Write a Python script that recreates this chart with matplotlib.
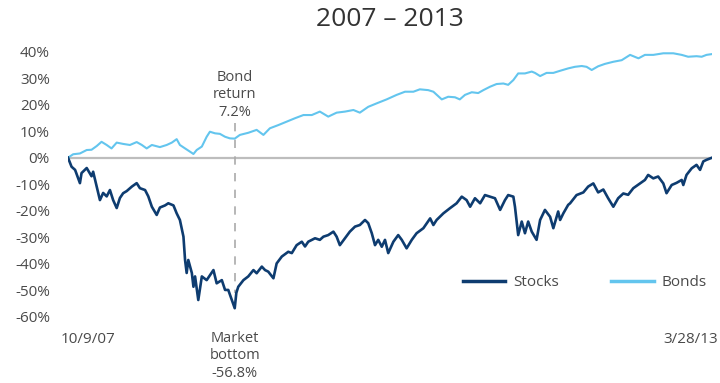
import matplotlib
matplotlib.use("Agg")
import matplotlib.pyplot as plt
import matplotlib.transforms as mtransforms
import pandas as pd

# ---------------- data ----------------
title = "2007 \u2013 2013"
series_names = ["Stocks", "Bonds"]

stock_dates = [
    "2007-10-09", "2007-10-20", "2007-10-31", "2007-11-15", "2007-11-20", "2007-12-06",
    "2007-12-21", "2007-12-26", "2008-01-06", "2008-01-16", "2008-01-26", "2008-02-06",
    "2008-02-16", "2008-02-26", "2008-03-08", "2008-03-18", "2008-03-28", "2008-04-08",
    "2008-04-24", "2008-05-09", "2008-05-19", "2008-06-04", "2008-06-14", "2008-06-25",
    "2008-07-10", "2008-07-20", "2008-08-05", "2008-08-15", "2008-08-31", "2008-09-10",
    "2008-09-20", "2008-10-01", "2008-10-06", "2008-10-11", "2008-10-16", "2008-10-27",
    "2008-11-01", "2008-11-06", "2008-11-16", "2008-11-27", "2008-12-12", "2009-01-02",
    "2009-01-12", "2009-01-28", "2009-02-07", "2009-02-17", "2009-03-09", "2009-03-14",
    "2009-03-20", "2009-04-05", "2009-04-20", "2009-05-06", "2009-05-16", "2009-06-01",
    "2009-06-11", "2009-06-21", "2009-07-07", "2009-07-17", "2009-08-02", "2009-08-22",
    "2009-09-02", "2009-09-17", "2009-10-03", "2009-10-13", "2009-10-23", "2009-11-13",
    "2009-11-28", "2009-12-09", "2009-12-24", "2010-01-09", "2010-01-19", "2010-01-29",
    "2010-02-14", "2010-03-01", "2010-03-17", "2010-04-01", "2010-04-17", "2010-04-27",
    "2010-05-08", "2010-05-18", "2010-05-28", "2010-06-08", "2010-06-18", "2010-06-28",
    "2010-07-14", "2010-07-29", "2010-08-09", "2010-08-24", "2010-09-09", "2010-09-24",
    "2010-10-15", "2010-11-05", "2010-11-15", "2010-11-25", "2010-12-16", "2011-01-05",
    "2011-01-26", "2011-02-11", "2011-02-26", "2011-03-09", "2011-03-24", "2011-04-09",
    "2011-04-24", "2011-05-10", "2011-05-25", "2011-06-10", "2011-06-25", "2011-07-05",
    "2011-07-21", "2011-07-26", "2011-08-05", "2011-08-16", "2011-08-26", "2011-09-05",
    "2011-09-16", "2011-10-01", "2011-10-12", "2011-10-27", "2011-11-12", "2011-11-22",
    "2011-12-07", "2011-12-13", "2011-12-23", "2012-01-07", "2012-01-13", "2012-02-02",
    "2012-02-23", "2012-03-09", "2012-03-25", "2012-04-09", "2012-04-25", "2012-05-10",
    "2012-05-26", "2012-06-10", "2012-06-26", "2012-07-11", "2012-07-27", "2012-08-17",
    "2012-09-01", "2012-09-11", "2012-09-27", "2012-10-12", "2012-10-28", "2012-11-07",
    "2012-11-23", "2012-12-08", "2012-12-24", "2012-12-29", "2013-01-08", "2013-01-24",
    "2013-02-08", "2013-02-19", "2013-03-01", "2013-03-11", "2013-03-28",
]
stock_values = [
    0.0, -3.4, -4.6, -9.6, -5.8, -3.9,
    -7.0, -5.3, -10.9, -16.0, -13.3, -14.6,
    -12.2, -16.0, -19.0, -15.2, -13.4, -12.6,
    -10.9, -9.6, -11.5, -12.2, -14.6, -18.5,
    -21.6, -18.8, -18.0, -17.2, -18.0, -21.0,
    -23.5, -29.8, -38.6, -43.5, -38.6, -43.5,
    -48.7, -44.8, -53.7, -44.8, -46.2, -42.4,
    -47.4, -46.2, -49.9, -49.9, -56.8, -51.0,
    -48.7, -46.2, -44.8, -42.4, -43.6, -41.1,
    -42.4, -43.0, -45.5, -39.9, -37.3, -35.5,
    -36.0, -33.0, -31.7, -33.5, -31.7, -30.4,
    -31.0, -29.8, -29.2, -27.9, -29.8, -33.0,
    -30.4, -27.9, -26.0, -25.4, -23.5, -24.7,
    -28.5, -33.0, -31.0, -33.6, -31.0, -36.0,
    -31.7, -29.2, -31.0, -34.2, -31.0, -28.5,
    -26.6, -22.9, -25.4, -23.5, -21.0, -19.1,
    -17.2, -14.7, -16.0, -18.5, -15.3, -17.2,
    -14.1, -14.7, -15.3, -19.7, -16.0, -14.1,
    -14.7, -18.5, -29.2, -24.1, -28.5, -24.1,
    -27.9, -31.0, -23.5, -19.7, -22.3, -26.6,
    -20.3, -23.5, -21.0, -17.8, -17.2, -14.1,
    -13.1, -10.9, -9.7, -13.1, -12.0, -15.3,
    -18.5, -15.3, -13.5, -14.0, -11.5, -9.7,
    -8.4, -6.5, -7.8, -7.1, -9.7, -13.4,
    -10.3, -9.5, -8.4, -10.3, -6.5, -4.0,
    -2.7, -4.6, -1.4, -0.8, 0.0,
]

bond_dates = [
    "2007-10-09", "2007-10-25", "2007-11-15", "2007-12-06", "2007-12-21", "2008-01-06",
    "2008-01-21", "2008-02-06", "2008-02-21", "2008-03-08", "2008-03-28", "2008-04-18",
    "2008-05-09", "2008-05-25", "2008-06-09", "2008-06-25", "2008-07-20", "2008-08-10",
    "2008-08-26", "2008-09-10", "2008-09-20", "2008-10-06", "2008-10-21", "2008-11-01",
    "2008-11-11", "2008-11-27", "2008-12-12", "2008-12-22", "2009-01-07", "2009-01-22",
    "2009-02-07", "2009-02-22", "2009-03-09", "2009-03-25", "2009-04-20", "2009-05-16",
    "2009-06-06", "2009-06-26", "2009-07-22", "2009-08-17", "2009-09-12", "2009-10-08",
    "2009-11-03", "2009-11-28", "2009-12-24", "2010-01-19", "2010-02-14", "2010-03-12",
    "2010-04-01", "2010-04-27", "2010-05-23", "2010-06-23", "2010-07-24", "2010-08-19",
    "2010-09-14", "2010-10-04", "2010-10-30", "2010-11-15", "2010-12-11", "2010-12-31",
    "2011-01-21", "2011-02-05", "2011-02-21", "2011-03-14", "2011-04-03", "2011-04-19",
    "2011-05-10", "2011-05-30", "2011-06-20", "2011-07-05", "2011-07-21", "2011-08-05",
    "2011-08-26", "2011-09-16", "2011-09-26", "2011-10-12", "2011-11-01", "2011-11-22",
    "2011-12-13", "2012-01-07", "2012-01-28", "2012-02-18", "2012-03-04", "2012-03-20",
    "2012-04-09", "2012-04-30", "2012-05-26", "2012-06-21", "2012-07-17", "2012-08-12",
    "2012-09-01", "2012-09-27", "2012-10-28", "2012-11-28", "2012-12-24", "2013-01-13",
    "2013-02-08", "2013-02-24", "2013-03-11", "2013-03-28",
]
bond_values = [
    0.0, 1.3, 1.6, 2.9, 3.0, 4.4,
    6.0, 4.8, 3.5, 5.7, 5.2, 4.8,
    5.9, 4.8, 3.5, 4.8, 4.0, 4.8,
    5.7, 7.0, 4.8, 3.5, 2.3, 1.4,
    2.9, 4.2, 7.9, 9.8, 9.2, 9.0,
    7.9, 7.3, 7.2, 8.6, 9.4, 10.5,
    8.6, 11.1, 12.3, 13.6, 14.9, 16.1,
    16.1, 17.4, 15.5, 17.0, 17.4, 18.0,
    17.0, 19.2, 20.5, 22.0, 23.7, 24.9,
    24.9, 25.8, 25.5, 24.9, 22.0, 23.0,
    22.8, 22.0, 23.7, 24.7, 24.4, 25.5,
    26.8, 27.8, 28.0, 27.5, 29.3, 31.8,
    31.8, 32.5, 32.0, 30.8, 32.0, 32.0,
    32.8, 33.7, 34.3, 34.6, 34.3, 33.1,
    34.5, 35.4, 36.2, 36.8, 38.8, 37.5,
    38.8, 38.8, 39.4, 39.4, 38.8, 38.1,
    38.3, 38.1, 38.8, 39.1,
]

ytick_values = [40, 30, 20, 10, 0, -10, -20, -30, -40, -50, -60]
ytick_labels = ["40%", "30%", "20%", "10%", "0%", "-10%", "-20%", "-30%", "-40%", "-50%", "-60%"]
xtick_dates = ["2007-10-09", "2013-03-28"]
xtick_labels = ["10/9/07", "3/28/13"]

bottom_date = "2009-03-09"
bond_note = "Bond\nreturn\n7.2%"
stock_note = "Market\nbottom\n-56.8%"

# ---------------- styling ----------------
STOCK_COLOR = "#0e3c70"
BOND_COLOR = "#63c5ee"
TEXT_COLOR = "#4a4a4a"
plt.rcParams["font.family"] = ["Open Sans", "DejaVu Sans"]

sd = pd.to_datetime(stock_dates)
bd = pd.to_datetime(bond_dates)
xd = pd.to_datetime(xtick_dates)
bot = pd.Timestamp(bottom_date)

fig = plt.figure(figsize=(7.2, 3.83), dpi=100)
ax = fig.add_axes([68 / 720, 1 - 322 / 383, (712 - 68) / 720, (322 - 46.4) / 383])

ax.axhline(0, color="#bdbdbd", lw=1.6, zorder=1)
bond_line, = ax.plot(bd, bond_values, color=BOND_COLOR, lw=1.5, label=series_names[1], zorder=3)
stock_line, = ax.plot(sd, stock_values, color=STOCK_COLOR, lw=1.9, label=series_names[0], zorder=4)

# dashed marker at market bottom
ax.plot([bot, bot], [13.1, -51.0], color="#aaaaaa", lw=1.2, dashes=(5, 5), zorder=2)

ax.set_xlim(xd[0], xd[1])
ax.set_ylim(-62, 42)

ax.set_yticks(ytick_values)
ax.set_yticklabels(ytick_labels)
ax.set_xticks(xd)
ax.set_xticklabels(xtick_labels)
ax.tick_params(axis="y", length=0, pad=13, labelsize=11, labelcolor=TEXT_COLOR)
ax.tick_params(axis="x", length=0, pad=7, labelsize=11, labelcolor=TEXT_COLOR)
xl = ax.get_xticklabels()
xl[0].set_horizontalalignment("left")
xl[1].set_horizontalalignment("right")
xl[0].set_transform(xl[0].get_transform() +
                    mtransforms.ScaledTranslation(-5 / 72, 0, fig.dpi_scale_trans))
xl[1].set_transform(xl[1].get_transform() +
                    mtransforms.ScaledTranslation(4 / 72, 0, fig.dpi_scale_trans))

for s in ax.spines.values():
    s.set_visible(False)

ax.text(bot, 23.7, bond_note, ha="center", va="center", fontsize=10.5,
        color=TEXT_COLOR, linespacing=1.25)
ax.text(bot, -74.8, stock_note, ha="center", va="center", fontsize=10.5,
        color=TEXT_COLOR, linespacing=1.25, clip_on=False)

fig.text(390 / 720, 1 - 20 / 383, title, ha="center", va="center", fontsize=19,
         color="#333333")

leg = ax.legend(handles=[stock_line, bond_line], labels=series_names, ncol=2,
                loc="center right", bbox_to_anchor=(714 / 720, 1 - 282.7 / 383),
                bbox_transform=fig.transFigure, frameon=False, fontsize=11,
                handlelength=2.8, handletextpad=0.5, columnspacing=3.4, borderpad=0,
                labelcolor=TEXT_COLOR)
for h in leg.get_lines():
    h.set_linewidth(2.5)

fig.savefig("out.png", dpi=100)
